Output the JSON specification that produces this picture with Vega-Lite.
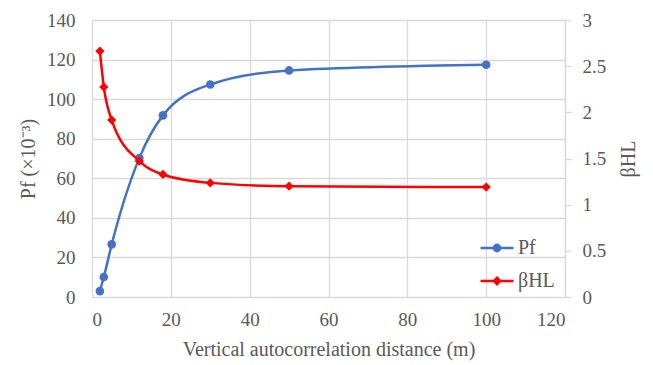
{
  "$schema": "https://vega.github.io/schema/vega-lite/v6.json",
  "width": 473,
  "height": 277,
  "autosize": {"type": "none"},
  "padding": {"left": 92, "top": 20, "right": 88, "bottom": 68},
  "config": {
    "font": "Liberation Serif",
    "view": {"stroke": null},
    "axis": {
      "labelFont": "Liberation Serif",
      "labelFontSize": 19,
      "labelColor": "#595959",
      "titleFont": "Liberation Serif",
      "titleFontSize": 20,
      "titleColor": "#595959",
      "titleFontWeight": "normal",
      "gridColor": "#d9d9d9",
      "gridWidth": 1.3,
      "domain": false,
      "ticks": false
    },
    "legend": {"labelFont": "Liberation Serif"}
  },
  "data": {
    "values": [
      {"x": 2, "series": "Pf", "v": 3.0},
      {"x": 3, "series": "Pf", "v": 10.1},
      {"x": 5, "series": "Pf", "v": 26.6},
      {"x": 12, "series": "Pf", "v": 70.2},
      {"x": 18, "series": "Pf", "v": 91.8},
      {"x": 30, "series": "Pf", "v": 107.4},
      {"x": 50, "series": "Pf", "v": 114.5},
      {"x": 100, "series": "Pf", "v": 117.4},
      {"x": 2, "series": "βHL", "v": 2.664},
      {"x": 3, "series": "βHL", "v": 2.274},
      {"x": 5, "series": "βHL", "v": 1.916},
      {"x": 12, "series": "βHL", "v": 1.471},
      {"x": 18, "series": "βHL", "v": 1.327},
      {"x": 30, "series": "βHL", "v": 1.236},
      {"x": 50, "series": "βHL", "v": 1.2},
      {"x": 100, "series": "βHL", "v": 1.19}
    ]
  },
  "encoding": {
    "x": {
      "field": "x",
      "type": "quantitative",
      "scale": {"domain": [0, 120], "nice": false},
      "axis": {
        "values": [0, 20, 40, 60, 80, 100, 120],
        "title": "Vertical autocorrelation distance (m)",
        "labelPadding": 13,
        "titlePadding": 10
      }
    }
  },
  "layer": [
    {
      "transform": [{"filter": "datum.series === 'Pf'"}],
      "encoding": {
        "y": {
          "field": "v",
          "type": "quantitative",
          "scale": {"domain": [0, 140], "nice": false},
          "axis": {
            "values": [0, 20, 40, 60, 80, 100, 120, 140],
            "title": "Pf (×10⁻³)",
            "orient": "left",
            "labelPadding": 17,
            "titlePadding": 8
          }
        }
      },
      "layer": [
        {"mark": {"type": "line", "interpolate": "monotone", "color": "#4472C4", "strokeWidth": 2.5}, "encoding": {}},
        {"mark": {"type": "point", "shape": "circle", "filled": true, "opacity": 1, "color": "#4472C4", "size": 75}, "encoding": {}},
        {
          "transform": [{"filter": "datum.x < 0"}],
          "mark": {"type": "point", "opacity": 1, "strokeWidth": 2.5, "size": 1089},
          "encoding": {
            "fill": {
              "field": "series",
              "type": "nominal",
              "scale": {"domain": ["Pf", "βHL"], "range": ["#4472C4", "#FF0000"]},
              "legend": {
                "orient": "none",
                "legendX": 387,
                "legendY": 210,
                "title": null,
                "labelFontSize": 20,
                "labelColor": "#595959",
                "symbolSize": 1089,
                "symbolStrokeWidth": 2.5,
                "rowPadding": 5,
                "labelOffset": 3
              }
            },
            "stroke": {
              "field": "series",
              "type": "nominal",
              "scale": {"domain": ["Pf", "βHL"], "range": ["#4472C4", "#FF0000"]},
              "legend": {
                "orient": "none",
                "legendX": 387,
                "legendY": 210,
                "title": null,
                "labelFontSize": 20,
                "labelColor": "#595959",
                "symbolSize": 1089,
                "symbolStrokeWidth": 2.5,
                "rowPadding": 5,
                "labelOffset": 3
              }
            },
            "shape": {
              "field": "series",
              "type": "nominal",
              "scale": {
                "domain": ["Pf", "βHL"],
                "range": [
                  "M-1,0L1,0M0.19,0A0.19,0.19 0 1 1 -0.19,0A0.19,0.19 0 1 1 0.19,0Z",
                  "M-1,0L1,0M0,-0.2L0.19,0L0,0.2L-0.19,0Z"
                ]
              },
              "legend": {
                "orient": "none",
                "legendX": 387,
                "legendY": 210,
                "title": null,
                "labelFontSize": 20,
                "labelColor": "#595959",
                "symbolSize": 1089,
                "symbolStrokeWidth": 2.5,
                "rowPadding": 5,
                "labelOffset": 3
              }
            }
          }
        }
      ]
    },
    {
      "transform": [{"filter": "datum.series === 'βHL'"}],
      "encoding": {
        "y": {
          "field": "v",
          "type": "quantitative",
          "scale": {"domain": [0, 3], "nice": false},
          "axis": {
            "values": [0, 0.5, 1, 1.5, 2, 2.5, 3],
            "format": "~f",
            "title": "βHL",
            "orient": "right",
            "grid": false,
            "domain": true,
            "domainColor": "#d9d9d9",
            "domainWidth": 1.3,
            "ticks": true,
            "tickColor": "#d9d9d9",
            "tickWidth": 1.3,
            "tickSize": 6,
            "labelPadding": 11,
            "titleAngle": 270,
            "titleBaseline": "top",
            "titlePadding": 13
          }
        }
      },
      "layer": [
        {"mark": {"type": "line", "interpolate": "monotone", "color": "#FF0000", "strokeWidth": 2.5}, "encoding": {}},
        {"mark": {"type": "point", "shape": "diamond", "filled": true, "opacity": 1, "color": "#FF0000", "size": 85}, "encoding": {}}
      ]
    }
  ],
  "resolve": {"scale": {"y": "independent"}}
}
